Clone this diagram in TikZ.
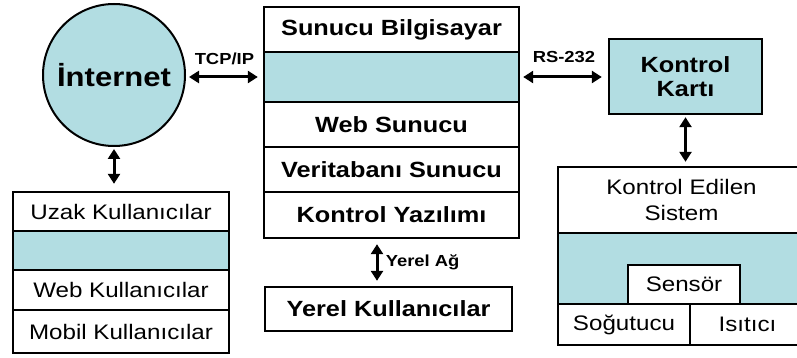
\documentclass[tikz,border=0pt]{standalone}
\usepackage{fontspec}
\setmainfont[FakeStretch=1.15]{Liberation Sans}
\usetikzlibrary{arrows.meta, positioning}
\definecolor{panelblue}{RGB}{178,221,226}

\tikzset{
  box/.style={draw, line width=2.4pt, inner sep=0pt, align=center},
  bigtxt/.style={font=\fontsize{22}{24}\selectfont\bfseries},
  plaintxt/.style={font=\fontsize{21}{26}\selectfont},
  lbl/.style={font=\fontsize{16}{18}\selectfont\bfseries},
  link/.style={{Triangle[length=10pt,width=12pt]}-{Triangle[length=10pt,width=12pt]}, line width=3pt},
}

\begin{document}
\begin{tikzpicture}[x=1pt, y=-1pt]
  \useasboundingbox (0,0) rectangle (797,358);

  % Internet
  \node[circle, draw, line width=2pt, fill=panelblue, minimum size=142pt, inner sep=0pt,
        font=\fontsize{27}{30}\selectfont\bfseries] (inet) at (114,75) {İnternet};

  % Server stack
  \node[box, bigtxt, minimum width=255pt, minimum height=45pt] (srvtop) at (391.5,29.5) {Sunucu Bilgisayar};
  \node[box, fill=panelblue, minimum width=255pt, minimum height=50pt] (srvblue) at (391.5,77) {};
  \node[box, bigtxt, minimum width=255pt, minimum height=45pt] (websrv) at (391.5,124.5) {Web Sunucu};
  \node[box, bigtxt, minimum width=255pt, minimum height=45pt] (dbsrv) at (391.5,169.5) {Veritabanı Sunucu};
  \node[box, bigtxt, minimum width=255pt, minimum height=46pt] (ctrlsw) at (391.5,215) {Kontrol Yazılımı};

  % Local users
  \node[box, bigtxt, minimum width=247pt, minimum height=44pt] (local) at (388.5,309) {Yerel Kullanıcılar};

  % Remote users stack
  \node[box, plaintxt, minimum width=216pt, minimum height=39pt] (remote) at (121,211.5) {Uzak Kullanıcılar};
  \node[box, fill=panelblue, minimum width=216pt, minimum height=39pt] (remblue) at (121,250.5) {};
  \node[box, plaintxt, minimum width=216pt, minimum height=40pt] (webusr) at (121,290) {Web Kullanıcılar};
  \node[box, plaintxt, minimum width=216pt, minimum height=43pt] (mobusr) at (121,331.5) {Mobil Kullanıcılar};

  % Control card
  \node[box, bigtxt, fill=panelblue, minimum width=153pt, minimum height=75pt] (card) at (685.5,76.5) {Kontrol\\Kartı};

  % Controlled system
  \node[box, fill=panelblue, minimum width=247pt, minimum height=71pt] (sysblue) at (681.5,268.5) {};
  \node[box, plaintxt, fill=white, minimum width=112pt, minimum height=39pt] (sensor) at (684,284.5) {Sensör};
  \node[box, plaintxt, minimum width=247pt, minimum height=66pt] (system) at (681.5,200) {Kontrol Edilen\\Sistem};
  \node[box, plaintxt, minimum width=132pt, minimum height=41pt] (cooler) at (624,324.5) {Soğutucu};
  \node[box, plaintxt, minimum width=115pt, minimum height=41pt] (heater) at (747.5,324.5) {Isıtıcı};

  % Links
  \draw[link, shorten <=3pt, shorten >=5pt] (srvblue.west -| inet.east) -- (srvblue.west)
    node[lbl, midway, above=7pt] {TCP/IP};
  \draw[link, shorten <=3pt, shorten >=6pt] (srvblue.east) -- (srvblue.east -| card.west)
    node[lbl, midway, above=9pt] {RS-232};
  \draw[link, shorten <=2pt, shorten >=7pt] (inet.south) -- (inet.south |- remote.north);
  \draw[link, shorten <=2pt, shorten >=4pt] (card.south) -- (card.south |- system.north);
  \draw[link, shorten <=5pt, shorten >=5pt] ([xshift=-14.5pt]ctrlsw.south) -- ([xshift=-14.5pt]ctrlsw.south |- local.north)
    node[lbl, midway, right=4pt] {Yerel Ağ};
\end{tikzpicture}
\end{document}
